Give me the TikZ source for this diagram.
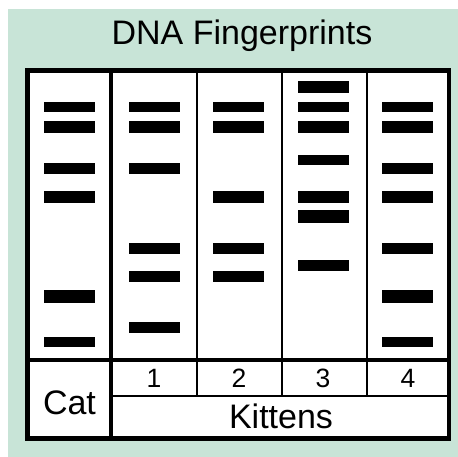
\documentclass[tikz,border=0pt]{standalone}
\usepackage{fontspec}
\setmainfont{Liberation Sans}
\usetikzlibrary{positioning}
\definecolor{gelbg}{RGB}{200,228,215}
\tikzstyle{band} = [rectangle, fill=black, inner sep=0pt, minimum width=51pt, minimum height=10.5pt]
\tikzstyle{wband} = [band, minimum height=12.5pt]
\tikzstyle{lbl} = [inner sep=0pt, anchor=base, font=\fontsize{34}{36}\selectfont]
\tikzstyle{num} = [lbl, font=\fontsize{26.5}{28}\selectfont]
\tikzstyle{frame} = [draw, line width=4.5pt]
\tikzstyle{thickrule} = [draw, line width=4pt]
\tikzstyle{rule} = [draw, line width=2pt]

\begin{document}
\begin{tikzpicture}[x=1pt, y=-1pt]
			\useasboundingbox (0,0) rectangle (458,457);
			\fill [gelbg] (8,9) rectangle (458,457);
			\fill [white] (27.5,70.5) rectangle (449,438.5);
			
			% cat lane
			\node [band] (cat1) at (69.5,107) {};
			\node [wband] (cat2) at (69.5,127) {};
			\node [band] (cat3) at (69.5,168.5) {};
			\node [wband] (cat4) at (69.5,197) {};
			\node [wband] (cat5) at (69.5,296.5) {};
			\node [band] (cat6) at (69.5,342) {};
			
			% kitten 1
			\node [band] (ka1) at (154,107) {};
			\node [wband] (ka2) at (154,127) {};
			\node [band] (ka3) at (154,168.5) {};
			\node [band] (ka4) at (154,248.5) {};
			\node [band] (ka5) at (154,276.5) {};
			\node [band] (ka6) at (154,327.5) {};
			
			% kitten 2
			\node [band] (kb1) at (238.5,107) {};
			\node [wband] (kb2) at (238.5,127) {};
			\node [wband] (kb3) at (238.5,197) {};
			\node [band] (kb4) at (238.5,248.5) {};
			\node [band] (kb5) at (238.5,276.5) {};
			
			% kitten 3
			\node [wband] (kc1) at (323,87) {};
			\node [band] (kc2) at (323,107) {};
			\node [wband] (kc3) at (323,127) {};
			\node [band] (kc4) at (323,160) {};
			\node [wband] (kc5) at (323,197) {};
			\node [wband] (kc6) at (323,216.5) {};
			\node [band] (kc7) at (323,265.5) {};
			
			% kitten 4
			\node [band] (kd1) at (407.5,107) {};
			\node [wband] (kd2) at (407.5,127) {};
			\node [band] (kd3) at (407.5,168.5) {};
			\node [wband] (kd4) at (407.5,197) {};
			\node [band] (kd5) at (407.5,248.5) {};
			\node [wband] (kd6) at (407.5,296.5) {};
			\node [band] (kd7) at (407.5,342) {};
			
			% grid
			\path [rule] (197,70.5) -- (197,396);
			\path [rule] (282,70.5) -- (282,396);
			\path [rule] (367,70.5) -- (367,396);
			\path [rule] (111,396) -- (449,396);
			\path [thickrule] (111,70.5) -- (111,438.5);
			\path [thickrule] (27.5,360) -- (449,360);
			\path [frame] (27.5,70.5) rectangle (449,438.5);
			
			% labels
			\node [lbl] (title) at (242,44.3) {DNA Fingerprints};
			\node [lbl] (cat) at (69.5,414) {Cat};
			\node [lbl] (kittens) at (281,428.3) {Kittens};
			\node [num] (n1) at (154,387) {1};
			\node [num] (n2) at (239,387) {2};
			\node [num] (n3) at (323,387) {3};
			\node [num] (n4) at (408,387) {4};
		\end{tikzpicture}
\end{document}
